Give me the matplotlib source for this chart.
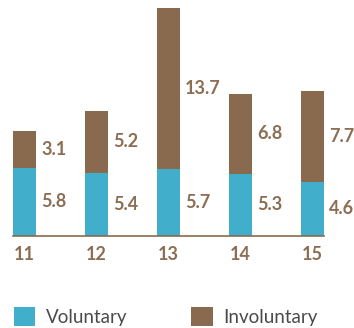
import matplotlib
matplotlib.use("Agg")
import matplotlib.pyplot as plt
from matplotlib.patches import Patch

years = ["11", "12", "13", "14", "15"]
voluntary = [5.8, 5.4, 5.7, 5.3, 4.6]
involuntary = [3.1, 5.2, 13.7, 6.8, 7.7]

BLUE = "#41AFCB"
BROWN = "#8A6A4F"
LABEL = "#8B6E53"
GREY = "#4A4A4A"

plt.rcParams["font.family"] = ["Lato", "DejaVu Sans"]

W, H = 354, 328
fig = plt.figure(figsize=(W / 100, H / 100), dpi=100)

base_px = 92          # baseline distance from bottom
px_per_unit_y = 11.75
px_per_unit_x = 72
first_center = 24.5
bar_w = 23 / px_per_unit_x

ax = fig.add_axes([0, base_px / H, 1, (H - base_px) / H])
ax.set_xlim(-first_center / px_per_unit_x, (W - first_center) / px_per_unit_x)
ax.set_ylim(0, (H - base_px) / px_per_unit_y)

x = list(range(len(years)))
ax.bar(x, voluntary, width=bar_w, color=BLUE, linewidth=0)
ax.bar(x, involuntary, width=bar_w, bottom=voluntary, color=BROWN, linewidth=0)

dx = bar_w / 2 + 5 / px_per_unit_x
for xi, v, iv in zip(x, voluntary, involuntary):
    ax.text(xi + dx, v / 2, f"{v:.1f}", ha="left", va="center",
            fontsize=13, fontweight="bold", color=LABEL)
    ax.text(xi + dx, v + iv / 2, f"{iv:.1f}", ha="left", va="center",
            fontsize=13, fontweight="bold", color=LABEL)

for s in ["top", "right", "left"]:
    ax.spines[s].set_visible(False)
ax.spines["bottom"].set_color(BROWN)
ax.spines["bottom"].set_linewidth(1.2)
ax.spines["bottom"].set_bounds(-bar_w / 2, x[-1] + bar_w / 2)
ax.set_yticks([])
ax.set_xticks(x)
ax.set_xticklabels(years, fontsize=13, fontweight="bold", color=LABEL)
ax.tick_params(axis="x", length=0, pad=7)
ax.patch.set_alpha(0)

handles = [Patch(facecolor=BLUE, edgecolor="none", label="Voluntary"),
           Patch(facecolor=BROWN, edgecolor="none", label="Involuntary")]
leg = fig.legend(handles=handles, loc="lower left", bbox_to_anchor=(12 / W, 0 / H),
                 ncol=2, frameon=False, fontsize=13.5, handlelength=1.15,
                 handleheight=1.15, handletextpad=0.55, columnspacing=3.4,
                 borderaxespad=0, borderpad=0.1)
for t in leg.get_texts():
    t.set_color(GREY)

fig.savefig("out.png", dpi=100)
